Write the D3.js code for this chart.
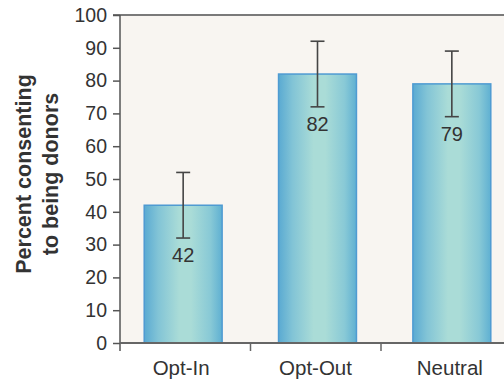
<!DOCTYPE html>
<html>
<head>
<meta charset="utf-8">
<script src="https://cdn.jsdelivr.net/npm/d3@7"></script>
<style>
  html, body { margin: 0; padding: 0; background: #fff; }
  svg { display: block; font-family: "Liberation Sans", Arial, sans-serif; }
</style>
</head>
<body>
<svg id="chart" width="504" height="383"></svg>
<script>
// Consent rates by default condition, with error ranges
const categories = ["Opt-In", "Opt-Out", "Neutral"];
const values = [42, 82, 79];
const errLow = [32, 72, 69];
const errHigh = [52, 92, 89];
const yTicks = [0, 10, 20, 30, 40, 50, 60, 70, 80, 90, 100];

const svg = d3.select("#chart");
const W = 504;
const plotLeft = 120, plotTop = 15, plotBottom = 343;

const y = d3.scaleLinear().domain([0, 100]).range([plotBottom, plotTop]);

// bar positions
const x = d3.scaleBand()
  .domain(categories)
  .range([116, 519])
  .paddingInner(0.42)
  .paddingOuter(0.21);

// category dividers along the bottom axis
const xDiv = d3.scaleLinear().domain([0, 3]).range([plotLeft, plotLeft + 3 * 130.5]);

const defs = svg.append("defs");
const grad = defs.append("linearGradient")
  .attr("id", "barGrad")
  .attr("x1", "0%").attr("x2", "100%").attr("y1", "0%").attr("y2", "0%");
[["0%", "#5aaad2"], ["18%", "#82c4d6"], ["45%", "#aadcd7"], ["60%", "#aadcd7"], ["85%", "#88c9d6"], ["100%", "#5fb0d2"]]
  .forEach(([o, c]) => grad.append("stop").attr("offset", o).attr("stop-color", c));

// plot background
svg.append("rect")
  .attr("x", plotLeft).attr("y", plotTop)
  .attr("width", W - plotLeft).attr("height", plotBottom - plotTop)
  .attr("fill", "#f8f5f1");

// top frame line
svg.append("line")
  .attr("x1", 113).attr("x2", W)
  .attr("y1", plotTop).attr("y2", plotTop)
  .attr("stroke", "#7a7a7a").attr("stroke-width", 2);

// bars
svg.append("g").selectAll("rect")
  .data(categories)
  .join("rect")
  .attr("x", d => x(d))
  .attr("y", (d, i) => y(values[i]))
  .attr("width", x.bandwidth())
  .attr("height", (d, i) => y(0) - y(values[i]))
  .attr("fill", "url(#barGrad)")
  .attr("stroke", "#4f9bd2")
  .attr("stroke-width", 1.5);

// error bars
const cap = 14;
const eb = svg.append("g").attr("stroke", "#454545").attr("stroke-width", 1.6);
categories.forEach((c, i) => {
  const cx = x(c) + x.bandwidth() / 2;
  eb.append("line").attr("x1", cx).attr("x2", cx).attr("y1", y(errLow[i])).attr("y2", y(errHigh[i]));
  eb.append("line").attr("x1", cx - cap / 2).attr("x2", cx + cap / 2).attr("y1", y(errHigh[i])).attr("y2", y(errHigh[i]));
  eb.append("line").attr("x1", cx - cap / 2).attr("x2", cx + cap / 2).attr("y1", y(errLow[i])).attr("y2", y(errLow[i]));
});

// value labels under the error bars
svg.append("g").selectAll("text")
  .data(categories)
  .join("text")
  .attr("x", d => x(d) + x.bandwidth() / 2)
  .attr("y", (d, i) => y(errLow[i]) + 24)
  .attr("text-anchor", "middle")
  .attr("font-size", 20)
  .attr("fill", "#333")
  .text((d, i) => values[i]);

// y axis
const yAxis = svg.append("g")
  .attr("transform", `translate(${plotLeft},0)`)
  .call(d3.axisLeft(y).tickValues(yTicks).tickSize(7).tickPadding(6).tickSizeOuter(0));
yAxis.select(".domain").remove();
yAxis.selectAll(".tick line").attr("stroke", "#555").attr("stroke-width", 1.5);
yAxis.selectAll(".tick text")
  .attr("font-size", 19.5)
  .attr("font-family", "Liberation Sans, Arial, sans-serif")
  .attr("fill", "#333");
svg.append("line")
  .attr("x1", plotLeft).attr("x2", plotLeft)
  .attr("y1", plotTop).attr("y2", plotBottom + 8)
  .attr("stroke", "#555").attr("stroke-width", 1.5);

// x axis line and dividers
svg.append("line")
  .attr("x1", plotLeft).attr("x2", W)
  .attr("y1", plotBottom).attr("y2", plotBottom)
  .attr("stroke", "#666").attr("stroke-width", 2);
svg.append("g").selectAll("line")
  .data([1, 2])
  .join("line")
  .attr("x1", d => xDiv(d)).attr("x2", d => xDiv(d))
  .attr("y1", plotBottom).attr("y2", plotBottom + 8)
  .attr("stroke", "#666").attr("stroke-width", 1.5);

// category labels
svg.append("g").selectAll("text")
  .data(categories)
  .join("text")
  .attr("x", d => x(d) + x.bandwidth() / 2 - 2)
  .attr("y", 375)
  .attr("text-anchor", "middle")
  .attr("font-size", 20.5)
  .attr("fill", "#333")
  .text(d => d);

// y axis title (two lines)
const title = svg.append("text")
  .attr("transform", "translate(0,174) rotate(-90)")
  .attr("text-anchor", "middle")
  .attr("font-size", 21.5)
  .attr("font-weight", "bold")
  .attr("fill", "#333");
title.append("tspan").attr("x", 0).attr("y", 31).text("Percent consenting");
title.append("tspan").attr("x", 0).attr("y", 58).text("to being donors");
</script>
</body>
</html>
